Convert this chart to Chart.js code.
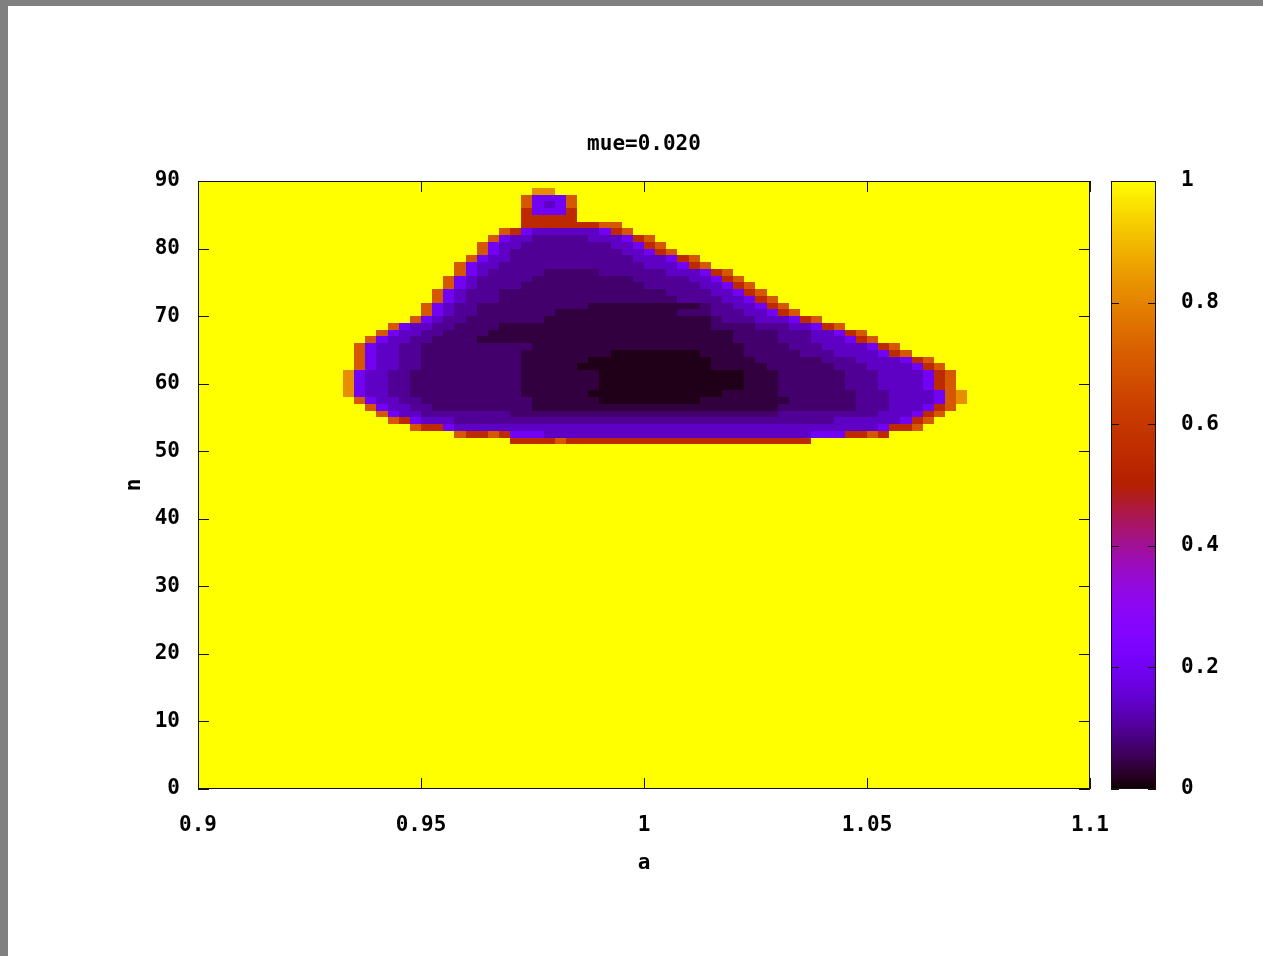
<!DOCTYPE html>
<html>
<head>
<meta charset="utf-8">
<script src="https://cdn.jsdelivr.net/npm/chart.js@4/dist/chart.umd.min.js"></script>
<style>
html, body { margin: 0; padding: 0; background: #808080; overflow: hidden; }
#page { position: absolute; left: 8px; top: 6px; width: 1255px; height: 950px; background: #fff; }
canvas { position: absolute; top: 0; }
</style>
</head>
<body>
<div id="page"></div>
<canvas id="main" width="1263" height="956" style="left:0"></canvas>
<canvas id="cbar" width="173" height="956" style="left:1090px"></canvas>
<script>
const titleText = "mue=0.020";
const xLabel = "a";
const yLabel = "n";
const xTicks = [0.9, 0.95, 1, 1.05, 1.1];
const xTickLabels = ["0.9", "0.95", "1", "1.05", "1.1"];
const yTicks = [0, 10, 20, 30, 40, 50, 60, 70, 80, 90];
const cbTicks = [0, 0.2, 0.4, 0.6, 0.8, 1];
const cbTickLabels = ["0", "0.2", "0.4", "0.6", "0.8", "1"];

// map grid: a from 0.9 in 80 columns of 0.0025, n from 0 in 90 rows of 1
const aMin = 0.9;
const aStep = 0.0025;
const aCols = 80;
const nMin = 0;
const nStep = 1;
const nRows = 90;
const outsideValue = 1;

// value of each code digit used in rowCodes
const levelValues = [0.015, 0.04, 0.07, 0.1, 0.14, 0.2, 0.35, 0.55, 0.7, 0.82];

// rows of the dark region (lower n of the row), first column, codes per column
const rowN = [88, 87, 86, 85, 84, 83, 82, 81, 80, 79, 78, 77, 76, 75, 74, 73, 72, 71, 70,
              69, 68, 67, 66, 65, 64, 63, 62, 61, 60, 59, 58, 57, 56, 55, 54, 53, 52, 51];
const rowStart = [30, 29, 29, 29, 29, 29, 27, 26, 25, 25, 24, 23, 23, 22, 22, 21, 21, 20, 20,
                  19, 17, 16, 15, 14, 14, 14, 14, 13, 13, 13, 13, 14, 15, 16, 17, 19, 23, 28];
const rowCodes = [
    "99",
    "85558",
    "85458",
    "75557",
    "77777",
    "777777788",
    "875444444578",
    "854433333444578",
    "85443333333344578",
    "854333333333344578",
    "854433333333333444578",
    "85443333333333333444578",
    "8543333322222333333444578",
    "854333332222222223333344578",
    "8543333222222222223333344578",
    "854333222222222222222333344578",
    "8543332222222222222222333344578",
    "85433" + "2222222222" + "1111111111" + "2" + "3344578",
    "85433" + "2222222" + "11111111111" + "222" + "33344578",
    "85433" + "2222222" + "111111111111111" + "2" + "333444578",
    "8544332222" + "1111111111111111111" + "222233344578",
    "8544332222" + "1111111111111111111111" + "222233344578",
    "8544332222" + "11111111111111111111111" + "2222333444578",
    "8544332222" + "222222" + "1111111111111111111" + "22223334444578",
    "8544332222" + "22222" + "11111111" + "00000000" + "1111" + "222223334444578",
    "8544332222" + "22222" + "111111" + "00000000000" + "1111" + "2222223334444578",
    "8544332222" + "22222" + "11111" + "000000000000" + "11111" + "2222223334444578",
    "9544332222" + "222222" + "1111111" + "0000000000000" + "111" + "2222223334444578",
    "954433222" + "2222222" + "1111111" + "0000000000000" + "111" + "2222223334444578",
    "9544332222" + "222222" + "1111111" + "0000000000000" + "111" + "2222223334444578",
    "95443322222" + "22222" + "111111" + "000000000000" + "11111" + "22222223334444589",
    "8544332222" + "222222" + "111111" + "000000000" + "11111111" + "2222223334444589",
    "85443322222" + "2222" + "1111111111111111111111" + "2222222333444578",
    "854433333333" + "222222222222222222222222" + "333333333444578",
    "875444" + "3333333333333333333333333333333333" + "444444578",
    "87754" + "4444444444444444444444444444444444" + "4445778",
    "87787555" + "444444444444444444444444" + "5557787",
    "77778" + "7777777777777777777777"
];

const font = { family: "'DejaVu Sans Mono', monospace", size: 21, weight: "bold" };

// gnuplot default palette (rgbformulae 7,5,15)
const palette = (v) => {
    v = Math.min(1, Math.max(0, v));
    const r = Math.sqrt(v);
    const g = v * v * v;
    const b = Math.max(0, Math.sin(2 * Math.PI * v));
    return "rgb(" + Math.round(r * 255) + "," + Math.round(g * 255) + "," + Math.round(b * 255) + ")";
};

const heatmap = {
    id: "heatmap",
    beforeDatasetsDraw(chart) {
        const { ctx, scales: { x, y } } = chart;
        const cell = (c, n, v) => {
            const x0 = Math.round(x.getPixelForValue(aMin + c * aStep));
            const x1 = Math.round(x.getPixelForValue(aMin + (c + 1) * aStep));
            const y0 = Math.round(y.getPixelForValue(n + nStep));
            const y1 = Math.round(y.getPixelForValue(n));
            ctx.fillStyle = palette(v);
            ctx.fillRect(x0, y0, x1 - x0, y1 - y0);
        };
        ctx.save();
        for (let r = 0; r < nRows; r++)
            for (let c = 0; c < aCols; c++) cell(c, nMin + r * nStep, outsideValue);
        rowN.forEach((n, r) => {
            const codes = rowCodes[r];
            for (let k = 0; k < codes.length; k++) cell(rowStart[r] + k, n, levelValues[+codes[k]]);
        });
        ctx.restore();
    }
};

const colorbar = {
    id: "colorbar",
    beforeDatasetsDraw(chart) {
        const { ctx, chartArea: a, scales: { y } } = chart;
        const steps = 300;
        ctx.save();
        for (let i = 0; i < steps; i++) {
            const v0 = i / steps, v1 = (i + 1) / steps;
            const y0 = Math.round(y.getPixelForValue(v1));
            const y1 = Math.round(y.getPixelForValue(v0));
            ctx.fillStyle = palette((v0 + v1) / 2);
            ctx.fillRect(a.left, y0, a.right - a.left, Math.max(1, y1 - y0));
        }
        ctx.restore();
    }
};

// border and inward tick marks, like gnuplot
const frame = {
    id: "frame",
    afterDraw(chart, args, opts) {
        const { ctx, chartArea: a, scales: { x, y } } = chart;
        const len = opts.len || 10;
        ctx.save();
        ctx.strokeStyle = "#111";
        ctx.lineWidth = 1;
        ctx.beginPath();
        ctx.rect(a.left + 0.5, a.top + 0.5, a.right - a.left - 1, a.bottom - a.top - 1);
        if (x.options.display) {
            x.ticks.forEach(t => {
                const px = Math.round(x.getPixelForValue(t.value)) + 0.5;
                ctx.moveTo(px, a.bottom); ctx.lineTo(px, a.bottom - len);
                ctx.moveTo(px, a.top); ctx.lineTo(px, a.top + len);
            });
        }
        y.ticks.forEach(t => {
            const py = Math.round(y.getPixelForValue(t.value)) + 0.5;
            ctx.moveTo(a.left, py); ctx.lineTo(a.left + len, py);
            ctx.moveTo(a.right, py); ctx.lineTo(a.right - len, py);
        });
        ctx.stroke();
        ctx.restore();
    }
};

new Chart(document.getElementById("main"), {
    type: "scatter",
    data: { datasets: [{ data: [] }] },
    options: {
        responsive: false,
        animation: false,
        events: [],
        layout: { padding: { left: 0, right: 173, top: 0, bottom: 0 } },
        plugins: {
            legend: { display: false },
            tooltip: { enabled: false },
            title: { display: true, fullSize: false, text: titleText, color: "#000", font: font, padding: { top: 132, bottom: 23.8 } },
            frame: { len: 11 }
        },
        scales: {
            x: {
                type: "linear", min: 0.9, max: 1.1,
                afterBuildTicks: (s) => { s.ticks = xTicks.map(v => ({ value: v })); },
                afterFit: (s) => { s.height = 167; },
                ticks: { callback: (v, i) => xTickLabels[i], color: "#000", font: font, padding: 24, maxRotation: 0, autoSkip: false },
                grid: { display: false, drawTicks: false },
                border: { display: false },
                title: { display: true, text: xLabel, color: "#000", font: font, padding: { top: 0, bottom: 79.5 } }
            },
            y: {
                type: "linear", min: 0, max: 90,
                afterBuildTicks: (s) => { s.ticks = yTicks.map(v => ({ value: v })); },
                afterFit: (s) => { s.width = 198; },
                ticks: { color: "#000", font: font, padding: 18, autoSkip: false },
                grid: { display: false, drawTicks: false },
                border: { display: false },
                title: { display: true, text: yLabel, color: "#000", font: font, padding: { top: 122.4, bottom: 0 } }
            }
        }
    },
    plugins: [heatmap, frame]
});

new Chart(document.getElementById("cbar"), {
    type: "scatter",
    data: { datasets: [{ data: [] }] },
    options: {
        responsive: false,
        animation: false,
        events: [],
        layout: { padding: { left: 21, right: 0, top: 181, bottom: 167 } },
        plugins: {
            legend: { display: false },
            tooltip: { enabled: false },
            frame: { len: 8 }
        },
        scales: {
            x: { type: "linear", display: false, min: 0, max: 1 },
            y: {
                type: "linear", position: "right", min: 0, max: 1,
                afterBuildTicks: (s) => { s.ticks = cbTicks.map(v => ({ value: v })); },
                afterFit: (s) => { s.width = 107; },
                ticks: { callback: (v, i) => cbTickLabels[i], color: "#000", font: font, padding: 25, autoSkip: false },
                grid: { display: false, drawTicks: false },
                border: { display: false }
            }
        }
    },
    plugins: [colorbar, frame]
});
</script>
</body>
</html>
